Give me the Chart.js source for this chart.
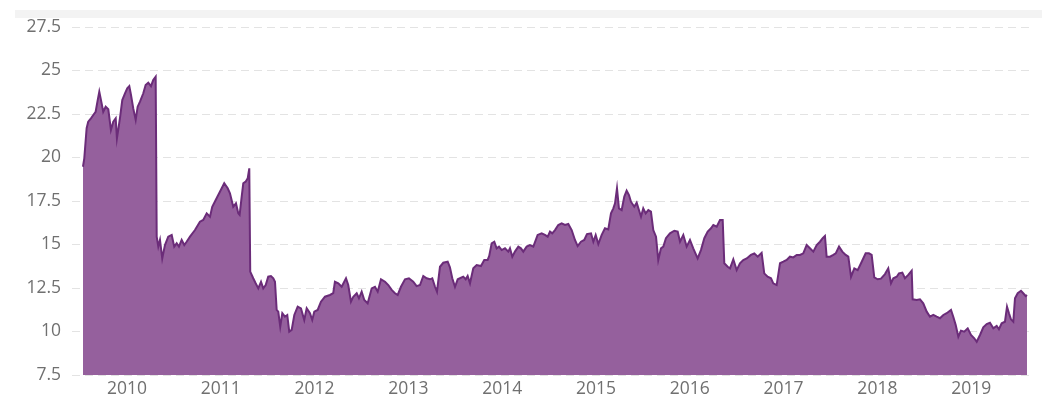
<!DOCTYPE html>
<html>
<head>
<meta charset="utf-8">
<script src="https://cdn.jsdelivr.net/npm/chart.js@4/dist/chart.umd.min.js"></script>
<style>
  html, body { margin: 0; padding: 0; background: #ffffff; }
  #wrap { position: relative; width: 1042px; height: 402px; }
  #band { position: absolute; left: 15px; top: 10px; width: 1027px; height: 8px; background: #f3f3f3; }
  canvas { position: absolute; left: 0; top: 0; }
</style>
</head>
<body>
<div id="wrap">
  <div id="band"></div>
  <canvas id="c" width="1042" height="402"></canvas>
</div>
<script>
// Decimal years for each sampled point
const years = [
  2009.531, 2009.545, 2009.570, 2009.587, 2009.616, 2009.641, 2009.666, 2009.688, 2009.705, 2009.730,
  2009.747, 2009.773, 2009.801, 2009.829, 2009.854, 2009.880, 2009.893, 2009.925, 2009.950, 2009.979,
  2010.003, 2010.025, 2010.043, 2010.067, 2010.093, 2010.114, 2010.139, 2010.174, 2010.199, 2010.227,
  2010.256, 2010.280, 2010.306, 2010.317, 2010.334, 2010.352, 2010.376, 2010.405, 2010.440, 2010.477,
  2010.504, 2010.530, 2010.554, 2010.583, 2010.611, 2010.636, 2010.672, 2010.725, 2010.778, 2010.813,
  2010.850, 2010.885, 2010.909, 2010.946, 2010.991, 2011.037, 2011.074, 2011.098, 2011.133, 2011.162,
  2011.187, 2011.201, 2011.223, 2011.240, 2011.265, 2011.287, 2011.304, 2011.314, 2011.346, 2011.372,
  2011.400, 2011.429, 2011.453, 2011.479, 2011.506, 2011.535, 2011.560, 2011.578, 2011.596, 2011.613,
  2011.634, 2011.656, 2011.684, 2011.709, 2011.730, 2011.756, 2011.784, 2011.820, 2011.855, 2011.890,
  2011.916, 2011.951, 2011.975, 2011.997, 2012.033, 2012.068, 2012.111, 2012.164, 2012.199, 2012.217,
  2012.253, 2012.289, 2012.335, 2012.359, 2012.388, 2012.413, 2012.449, 2012.473, 2012.502, 2012.530,
  2012.566, 2012.609, 2012.644, 2012.673, 2012.708, 2012.751, 2012.786, 2012.822, 2012.857, 2012.886,
  2012.921, 2012.964, 2013.006, 2013.052, 2013.088, 2013.124, 2013.159, 2013.195, 2013.230, 2013.255,
  2013.284, 2013.305, 2013.337, 2013.372, 2013.419, 2013.443, 2013.468, 2013.497, 2013.526, 2013.550,
  2013.585, 2013.611, 2013.632, 2013.657, 2013.692, 2013.728, 2013.774, 2013.809, 2013.845, 2013.862,
  2013.888, 2013.916, 2013.941, 2013.966, 2013.995, 2014.030, 2014.065, 2014.083, 2014.108, 2014.136,
  2014.172, 2014.200, 2014.225, 2014.261, 2014.296, 2014.332, 2014.378, 2014.421, 2014.456, 2014.485,
  2014.510, 2014.534, 2014.563, 2014.598, 2014.634, 2014.670, 2014.705, 2014.741, 2014.776, 2014.805,
  2014.840, 2014.875, 2014.904, 2014.947, 2014.972, 2014.997, 2015.025, 2015.061, 2015.096, 2015.131,
  2015.160, 2015.185, 2015.203, 2015.224, 2015.245, 2015.274, 2015.302, 2015.327, 2015.352, 2015.373,
  2015.408, 2015.434, 2015.458, 2015.480, 2015.504, 2015.530, 2015.558, 2015.586, 2015.611, 2015.640,
  2015.664, 2015.693, 2015.718, 2015.746, 2015.789, 2015.835, 2015.871, 2015.896, 2015.931, 2015.967,
  2016.002, 2016.037, 2016.084, 2016.119, 2016.155, 2016.191, 2016.226, 2016.251, 2016.287, 2016.322,
  2016.351, 2016.368, 2016.404, 2016.429, 2016.464, 2016.500, 2016.535, 2016.570, 2016.607, 2016.652,
  2016.688, 2016.724, 2016.766, 2016.794, 2016.830, 2016.866, 2016.890, 2016.926, 2016.943, 2016.962,
  2016.997, 2017.033, 2017.068, 2017.104, 2017.140, 2017.175, 2017.210, 2017.246, 2017.281, 2017.317,
  2017.353, 2017.388, 2017.417, 2017.441, 2017.459, 2017.495, 2017.530, 2017.556, 2017.591, 2017.626,
  2017.662, 2017.690, 2017.719, 2017.754, 2017.790, 2017.833, 2017.875, 2017.910, 2017.939, 2017.967,
  2018.003, 2018.038, 2018.081, 2018.116, 2018.145, 2018.170, 2018.206, 2018.230, 2018.266, 2018.294,
  2018.329, 2018.366, 2018.376, 2018.419, 2018.454, 2018.489, 2018.526, 2018.561, 2018.596, 2018.632,
  2018.667, 2018.703, 2018.739, 2018.785, 2018.809, 2018.835, 2018.863, 2018.891, 2018.926, 2018.963,
  2018.998, 2019.033, 2019.059, 2019.094, 2019.129, 2019.165, 2019.200, 2019.236, 2019.272, 2019.296,
  2019.325, 2019.360, 2019.382, 2019.403, 2019.424, 2019.449, 2019.467, 2019.496, 2019.531, 2019.555,
  2019.581, 2019.595
];

const prices = [
  19.47, 19.95, 21.68, 22.06, 22.25, 22.44, 22.63, 23.30, 23.78, 23.11,
  22.63, 22.92, 22.77, 21.58, 22.06, 22.25, 21.10, 22.25, 23.30, 23.69,
  23.97, 24.10, 23.59, 22.82, 22.16, 22.92, 23.21, 23.69, 24.17, 24.30,
  24.10, 24.45, 24.64, 15.45, 14.88, 15.26, 14.20, 14.97, 15.45, 15.55,
  14.88, 15.07, 14.88, 15.26, 14.97, 15.16, 15.45, 15.83, 16.31, 16.41,
  16.79, 16.60, 17.17, 17.56, 18.03, 18.52, 18.23, 17.94, 17.17, 17.37,
  16.79, 16.70, 17.75, 18.52, 18.61, 18.80, 19.38, 13.44, 13.06, 12.77,
  12.48, 12.86, 12.48, 12.67, 13.15, 13.19, 13.06, 12.86, 11.24, 11.14,
  10.28, 11.05, 10.85, 10.95, 9.99, 10.09, 10.95, 11.43, 11.33, 10.66,
  11.33, 11.05, 10.66, 11.14, 11.24, 11.71, 12.00, 12.10, 12.20, 12.86,
  12.77, 12.57, 13.06, 12.67, 11.71, 12.00, 12.20, 11.91, 12.29, 11.81,
  11.62, 12.48, 12.57, 12.29, 13.00, 12.86, 12.67, 12.39, 12.20, 12.10,
  12.57, 13.00, 13.06, 12.86, 12.61, 12.67, 13.19, 13.06, 13.00, 13.06,
  12.57, 12.29, 13.72, 13.95, 14.01, 13.69, 13.06, 12.57, 13.00, 13.06,
  13.15, 13.00, 13.19, 12.77, 13.63, 13.82, 13.76, 14.11, 14.11, 14.34,
  15.07, 15.16, 14.78, 14.88, 14.68, 14.78, 14.59, 14.78, 14.30, 14.59,
  14.88, 14.78, 14.59, 14.88, 14.97, 14.88, 15.55, 15.64, 15.55, 15.45,
  15.74, 15.64, 15.83, 16.12, 16.22, 16.12, 16.18, 15.83, 15.26, 14.91,
  15.16, 15.26, 15.60, 15.64, 15.16, 15.55, 15.03, 15.55, 15.93, 15.87,
  16.79, 17.08, 17.37, 18.23, 17.08, 16.98, 17.75, 18.09, 17.84, 17.46,
  17.17, 17.40, 16.98, 16.60, 17.08, 16.79, 16.98, 16.89, 15.83, 15.45,
  14.11, 14.78, 14.88, 15.36, 15.64, 15.79, 15.74, 15.16, 15.55, 14.88,
  15.26, 14.78, 14.20, 14.68, 15.36, 15.74, 15.93, 16.12, 16.03, 16.41,
  16.41, 13.92, 13.72, 13.63, 14.15, 13.53, 13.92, 14.11, 14.20, 14.40,
  14.49, 14.30, 14.52, 13.34, 13.15, 13.06, 12.77, 12.67, 13.25, 13.92,
  14.01, 14.11, 14.30, 14.26, 14.40, 14.40, 14.49, 14.97, 14.78, 14.59,
  14.97, 15.16, 15.36, 15.49, 14.30, 14.30, 14.40, 14.49, 14.88, 14.59,
  14.40, 14.30, 13.15, 13.63, 13.53, 14.01, 14.49, 14.49, 14.40, 13.11,
  13.00, 13.04, 13.30, 13.63, 12.77, 13.06, 13.15, 13.34, 13.38, 13.06,
  13.25, 13.49, 11.85, 11.81, 11.85, 11.62, 11.14, 10.85, 10.95, 10.85,
  10.76, 10.95, 11.05, 11.24, 10.85, 10.37, 9.70, 10.05, 9.99, 10.18,
  9.80, 9.61, 9.41, 9.80, 10.24, 10.43, 10.50, 10.18, 10.32, 10.13,
  10.47, 10.56, 11.43, 11.05, 10.70, 10.56, 11.91, 12.20, 12.34, 12.20,
  12.04, 12.10
];

const yearTicks = [2010, 2011, 2012, 2013, 2014, 2015, 2016, 2017, 2018, 2019];
const yTicks = [7.5, 10, 12.5, 15, 17.5, 20, 22.5, 25, 27.5];

const points = years.map((y, i) => ({ x: y, y: prices[i] }));

new Chart(document.getElementById('c'), {
  type: 'line',
  data: {
    datasets: [{
      data: points,
      borderColor: '#6b2c79',
      backgroundColor: '#95609d',
      borderWidth: 2,
      pointRadius: 0,
      tension: 0,
      fill: 'start'
    }]
  },
  options: {
    responsive: false,
    animation: false,
    layout: { padding: { top: 27, right: 9, left: 0, bottom: 0 } },
    plugins: { legend: { display: false }, tooltip: { enabled: false } },
    scales: {
      x: {
        type: 'linear',
        min: 2009.414,
        max: 2019.659,
        grid: { display: false, drawTicks: false },
        border: { display: false },
        afterBuildTicks: (axis) => { axis.ticks = yearTicks.map(v => ({ value: v })); },
        afterFit: (axis) => { axis.height = 27; },
        ticks: {
          autoSkip: false,
          maxRotation: 0,
          padding: 4,
          color: '#707070',
          font: { family: 'Open Sans', size: 17.5 },
          callback: (v) => String(v)
        }
      },
      y: {
        min: 7.5,
        max: 27.5,
        afterBuildTicks: (axis) => { axis.ticks = yTicks.map(v => ({ value: v })); },
        afterFit: (axis) => { axis.width = 72; },
        grid: { color: '#e3e3e3', lineWidth: 1, drawTicks: false },
        border: { display: false, dash: [8, 5] },
        ticks: {
          padding: 11,
          color: '#707070',
          font: { family: 'Open Sans', size: 17.5 },
          callback: (v) => String(v)
        }
      }
    }
  }
});
</script>
</body>
</html>
